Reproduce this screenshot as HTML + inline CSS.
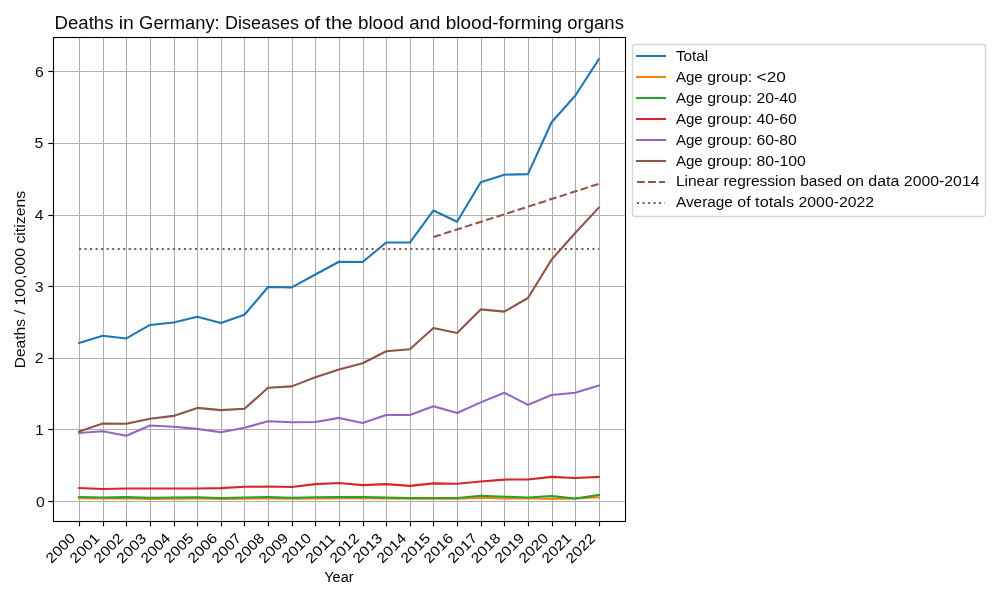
<!DOCTYPE html>
<html lang="en">
<head>
<meta charset="utf-8">
<title>Deaths in Germany: Diseases of the blood and blood-forming organs</title>
<style>
html,body{margin:0;padding:0;background:#ffffff;}
body{width:1000px;height:600px;overflow:hidden;font-family:"Liberation Sans", sans-serif;}
svg{display:block;will-change:transform;}
svg text{font-family:"Liberation Sans", sans-serif;fill:#000000;}
.grid line{stroke:#b0b0b0;stroke-width:1.11;}
.tick line{stroke:#000000;stroke-width:1.11;}
.series polyline,.series line{fill:none;stroke-width:2.083;stroke-linejoin:round;stroke-linecap:square;}
.leg line{stroke-width:2.083;}
</style>
</head>
<body>
<svg width="1000" height="600" viewBox="0 0 1000 600">
<rect x="0" y="0" width="1000" height="600" fill="#ffffff"/>
<text id="title" font-size="17.65" fill-opacity="0.97"><tspan x="54.61" y="29.00" textLength="58.82" lengthAdjust="spacingAndGlyphs">Deaths</tspan> <tspan x="118.70" y="29.00" textLength="15.13" lengthAdjust="spacingAndGlyphs">in</tspan> <tspan x="139.10" y="29.00" textLength="80.64" lengthAdjust="spacingAndGlyphs">Germany:</tspan> <tspan x="225.02" y="29.00" textLength="73.90" lengthAdjust="spacingAndGlyphs">Diseases</tspan> <tspan x="304.20" y="29.00" textLength="15.99" lengthAdjust="spacingAndGlyphs">of</tspan> <tspan x="325.46" y="29.00" textLength="27.23" lengthAdjust="spacingAndGlyphs">the</tspan> <tspan x="357.96" y="29.00" textLength="45.98" lengthAdjust="spacingAndGlyphs">blood</tspan> <tspan x="409.21" y="29.00" textLength="31.21" lengthAdjust="spacingAndGlyphs">and</tspan> <tspan x="445.70" y="29.00" textLength="116.35" lengthAdjust="spacingAndGlyphs">blood-forming</tspan> <tspan x="567.32" y="29.00" textLength="56.58" lengthAdjust="spacingAndGlyphs">organs</tspan></text>
<g class="grid">
<line x1="79.5" y1="37.33" x2="79.5" y2="520.90"/>
<line x1="103.5" y1="37.33" x2="103.5" y2="520.90"/>
<line x1="126.5" y1="37.33" x2="126.5" y2="520.90"/>
<line x1="150.5" y1="37.33" x2="150.5" y2="520.90"/>
<line x1="174.5" y1="37.33" x2="174.5" y2="520.90"/>
<line x1="197.5" y1="37.33" x2="197.5" y2="520.90"/>
<line x1="221.5" y1="37.33" x2="221.5" y2="520.90"/>
<line x1="244.5" y1="37.33" x2="244.5" y2="520.90"/>
<line x1="268.5" y1="37.33" x2="268.5" y2="520.90"/>
<line x1="292.5" y1="37.33" x2="292.5" y2="520.90"/>
<line x1="315.5" y1="37.33" x2="315.5" y2="520.90"/>
<line x1="339.5" y1="37.33" x2="339.5" y2="520.90"/>
<line x1="363.5" y1="37.33" x2="363.5" y2="520.90"/>
<line x1="386.5" y1="37.33" x2="386.5" y2="520.90"/>
<line x1="410.5" y1="37.33" x2="410.5" y2="520.90"/>
<line x1="433.5" y1="37.33" x2="433.5" y2="520.90"/>
<line x1="457.5" y1="37.33" x2="457.5" y2="520.90"/>
<line x1="481.5" y1="37.33" x2="481.5" y2="520.90"/>
<line x1="504.5" y1="37.33" x2="504.5" y2="520.90"/>
<line x1="528.5" y1="37.33" x2="528.5" y2="520.90"/>
<line x1="552.5" y1="37.33" x2="552.5" y2="520.90"/>
<line x1="575.5" y1="37.33" x2="575.5" y2="520.90"/>
<line x1="599.5" y1="37.33" x2="599.5" y2="520.90"/>
<line x1="53.15" y1="501.5" x2="624.81" y2="501.5"/>
<line x1="53.15" y1="429.5" x2="624.81" y2="429.5"/>
<line x1="53.15" y1="358.5" x2="624.81" y2="358.5"/>
<line x1="53.15" y1="286.5" x2="624.81" y2="286.5"/>
<line x1="53.15" y1="215.5" x2="624.81" y2="215.5"/>
<line x1="53.15" y1="143.5" x2="624.81" y2="143.5"/>
<line x1="53.15" y1="71.5" x2="624.81" y2="71.5"/>
</g>
<g class="series">
<polyline stroke="#1f77b4" points="79.14,342.95 102.76,335.75 126.38,338.45 150.00,324.95 173.62,322.55 197.25,316.75 220.87,322.95 244.49,314.70 268.11,286.95 291.74,287.40 315.36,274.50 338.98,261.75 362.60,262.05 386.22,242.55 409.84,242.55 433.47,210.45 457.09,221.70 480.71,182.20 504.33,174.70 527.95,174.10 551.58,122.20 575.20,95.80 598.82,59.31"/>
<polyline stroke="#ff7f0e" points="79.14,498.20 102.76,498.50 126.38,498.20 150.00,498.90 173.62,498.60 197.25,498.50 220.87,498.90 244.49,498.60 268.11,498.40 291.74,498.70 315.36,498.50 338.98,498.30 362.60,498.20 386.22,498.50 409.84,498.80 433.47,498.80 457.09,498.70 480.71,497.60 504.33,498.50 527.95,498.20 551.58,498.92 575.20,498.50 598.82,497.30"/>
<polyline stroke="#2ca02c" points="79.14,497.00 102.76,497.45 126.38,497.15 150.00,497.75 173.62,497.45 197.25,497.30 220.87,498.05 244.49,497.45 268.11,497.15 291.74,497.75 315.36,497.30 338.98,497.15 362.60,497.00 386.22,497.60 409.84,498.05 433.47,498.05 457.09,498.05 480.71,495.80 504.33,496.70 527.95,497.45 551.58,496.10 575.20,498.50 598.82,495.05"/>
<polyline stroke="#d62728" points="79.14,488.00 102.76,489.05 126.38,488.45 150.00,488.45 173.62,488.45 197.25,488.45 220.87,488.15 244.49,486.80 268.11,486.50 291.74,486.95 315.36,484.10 338.98,483.00 362.60,485.15 386.22,484.10 409.84,485.90 433.47,483.35 457.09,483.80 480.71,481.55 504.33,479.60 527.95,479.45 551.58,476.90 575.20,477.95 598.82,476.90"/>
<polyline stroke="#9467bd" points="79.14,433.00 102.76,431.20 126.38,435.70 150.00,425.50 173.62,426.70 197.25,428.90 220.87,432.30 244.49,427.80 268.11,421.20 291.74,422.25 315.36,421.95 338.98,417.90 362.60,422.95 386.22,415.00 409.84,415.00 433.47,406.30 457.09,413.05 480.71,402.40 504.33,392.75 527.95,404.90 551.58,395.00 575.20,392.75 598.82,385.55"/>
<polyline stroke="#8c564b" points="79.14,431.50 102.76,423.55 126.38,423.70 150.00,418.75 173.62,415.90 197.25,407.90 220.87,410.10 244.49,408.75 268.11,387.75 291.74,386.40 315.36,377.25 338.98,369.50 362.60,363.30 386.22,351.30 409.84,349.20 433.47,328.05 457.09,333.00 480.71,309.40 504.33,311.60 527.95,298.00 551.58,259.60 575.20,233.00 598.82,207.60"/>
<line stroke="#8c564b" stroke-linecap="butt" style="stroke-linecap:butt" stroke-dasharray="7.708 3.333" x1="433.47" y1="237.0" x2="598.82" y2="183.9"/>
<line stroke="#8c564b" style="stroke-linecap:butt" stroke-dasharray="2.083 3.4375" x1="79" y1="249" x2="599" y2="249"/>
</g>
<rect x="53.5" y="37.5" width="572.0" height="484.0" fill="none" stroke="#000000" stroke-width="1.11"/>
<g class="tick">
<line x1="79.5" y1="521.5" x2="79.5" y2="526.4"/>
<line x1="103.5" y1="521.5" x2="103.5" y2="526.4"/>
<line x1="126.5" y1="521.5" x2="126.5" y2="526.4"/>
<line x1="150.5" y1="521.5" x2="150.5" y2="526.4"/>
<line x1="174.5" y1="521.5" x2="174.5" y2="526.4"/>
<line x1="197.5" y1="521.5" x2="197.5" y2="526.4"/>
<line x1="221.5" y1="521.5" x2="221.5" y2="526.4"/>
<line x1="244.5" y1="521.5" x2="244.5" y2="526.4"/>
<line x1="268.5" y1="521.5" x2="268.5" y2="526.4"/>
<line x1="292.5" y1="521.5" x2="292.5" y2="526.4"/>
<line x1="315.5" y1="521.5" x2="315.5" y2="526.4"/>
<line x1="339.5" y1="521.5" x2="339.5" y2="526.4"/>
<line x1="363.5" y1="521.5" x2="363.5" y2="526.4"/>
<line x1="386.5" y1="521.5" x2="386.5" y2="526.4"/>
<line x1="410.5" y1="521.5" x2="410.5" y2="526.4"/>
<line x1="433.5" y1="521.5" x2="433.5" y2="526.4"/>
<line x1="457.5" y1="521.5" x2="457.5" y2="526.4"/>
<line x1="481.5" y1="521.5" x2="481.5" y2="526.4"/>
<line x1="504.5" y1="521.5" x2="504.5" y2="526.4"/>
<line x1="528.5" y1="521.5" x2="528.5" y2="526.4"/>
<line x1="552.5" y1="521.5" x2="552.5" y2="526.4"/>
<line x1="575.5" y1="521.5" x2="575.5" y2="526.4"/>
<line x1="599.5" y1="521.5" x2="599.5" y2="526.4"/>
<line x1="48.3" y1="501.5" x2="53.5" y2="501.5"/>
<line x1="48.3" y1="429.5" x2="53.5" y2="429.5"/>
<line x1="48.3" y1="358.5" x2="53.5" y2="358.5"/>
<line x1="48.3" y1="286.5" x2="53.5" y2="286.5"/>
<line x1="48.3" y1="215.5" x2="53.5" y2="215.5"/>
<line x1="48.3" y1="143.5" x2="53.5" y2="143.5"/>
<line x1="48.3" y1="71.5" x2="53.5" y2="71.5"/>
</g>
<g id="xt" font-size="14.20" fill-opacity="1.00">
<text transform="translate(76.19,539.20) rotate(-45)" text-anchor="end" textLength="34.95" lengthAdjust="spacingAndGlyphs">2000</text>
<text transform="translate(100.31,539.20) rotate(-45)" text-anchor="end" textLength="34.95" lengthAdjust="spacingAndGlyphs">2001</text>
<text transform="translate(124.18,539.20) rotate(-45)" text-anchor="end" textLength="34.95" lengthAdjust="spacingAndGlyphs">2002</text>
<text transform="translate(147.05,539.45) rotate(-45)" text-anchor="end" textLength="34.95" lengthAdjust="spacingAndGlyphs">2003</text>
<text transform="translate(171.18,539.20) rotate(-45)" text-anchor="end" textLength="34.95" lengthAdjust="spacingAndGlyphs">2004</text>
<text transform="translate(194.30,539.20) rotate(-45)" text-anchor="end" textLength="34.95" lengthAdjust="spacingAndGlyphs">2005</text>
<text transform="translate(218.17,539.20) rotate(-45)" text-anchor="end" textLength="34.95" lengthAdjust="spacingAndGlyphs">2006</text>
<text transform="translate(242.29,539.20) rotate(-45)" text-anchor="end" textLength="34.95" lengthAdjust="spacingAndGlyphs">2007</text>
<text transform="translate(265.16,539.20) rotate(-45)" text-anchor="end" textLength="34.95" lengthAdjust="spacingAndGlyphs">2008</text>
<text transform="translate(289.29,539.20) rotate(-45)" text-anchor="end" textLength="34.95" lengthAdjust="spacingAndGlyphs">2009</text>
<text transform="translate(312.16,539.20) rotate(-45)" text-anchor="end" textLength="34.95" lengthAdjust="spacingAndGlyphs">2010</text>
<text transform="translate(336.03,539.45) rotate(-45)" text-anchor="end" textLength="34.95" lengthAdjust="spacingAndGlyphs">2011</text>
<text transform="translate(360.15,539.20) rotate(-45)" text-anchor="end" textLength="34.95" lengthAdjust="spacingAndGlyphs">2012</text>
<text transform="translate(383.27,539.20) rotate(-45)" text-anchor="end" textLength="34.95" lengthAdjust="spacingAndGlyphs">2013</text>
<text transform="translate(407.14,539.20) rotate(-45)" text-anchor="end" textLength="34.95" lengthAdjust="spacingAndGlyphs">2014</text>
<text transform="translate(431.27,539.20) rotate(-45)" text-anchor="end" textLength="34.95" lengthAdjust="spacingAndGlyphs">2015</text>
<text transform="translate(454.14,539.20) rotate(-45)" text-anchor="end" textLength="34.95" lengthAdjust="spacingAndGlyphs">2016</text>
<text transform="translate(478.26,539.20) rotate(-45)" text-anchor="end" textLength="34.95" lengthAdjust="spacingAndGlyphs">2017</text>
<text transform="translate(501.38,539.20) rotate(-45)" text-anchor="end" textLength="34.95" lengthAdjust="spacingAndGlyphs">2018</text>
<text transform="translate(525.25,539.20) rotate(-45)" text-anchor="end" textLength="34.95" lengthAdjust="spacingAndGlyphs">2019</text>
<text transform="translate(549.13,539.20) rotate(-45)" text-anchor="end" textLength="34.95" lengthAdjust="spacingAndGlyphs">2020</text>
<text transform="translate(572.25,539.20) rotate(-45)" text-anchor="end" textLength="34.95" lengthAdjust="spacingAndGlyphs">2021</text>
<text transform="translate(596.12,539.45) rotate(-45)" text-anchor="end" textLength="34.95" lengthAdjust="spacingAndGlyphs">2022</text>
</g>
<g id="yt" font-size="15.05" fill-opacity="0.94" text-anchor="end">
<text x="44.80" y="506.51" textLength="8.80" lengthAdjust="spacingAndGlyphs">0</text>
<text x="43.80" y="434.91" textLength="8.80" lengthAdjust="spacingAndGlyphs">1</text>
<text x="43.55" y="363.30" textLength="8.80" lengthAdjust="spacingAndGlyphs">2</text>
<text x="43.55" y="291.70" textLength="8.80" lengthAdjust="spacingAndGlyphs">3</text>
<text x="43.55" y="220.10" textLength="8.80" lengthAdjust="spacingAndGlyphs">4</text>
<text x="43.30" y="148.49" textLength="8.80" lengthAdjust="spacingAndGlyphs">5</text>
<text x="43.80" y="76.89" textLength="8.80" lengthAdjust="spacingAndGlyphs">6</text>
</g>
<text id="xlabel" font-size="14.85" fill-opacity="1.00"><tspan x="324.21" y="582.00" textLength="29.34" lengthAdjust="spacingAndGlyphs">Year</tspan></text>
<text id="ylabel" transform="translate(24.95,279.80) rotate(-90)" font-size="13.95" fill-opacity="0.94"><tspan x="-88.49" y="0.00" textLength="49.28" lengthAdjust="spacingAndGlyphs">Deaths</tspan> <tspan x="-34.79" y="0.00" textLength="4.68" lengthAdjust="spacingAndGlyphs">/</tspan> <tspan x="-25.68" y="0.00" textLength="57.49" lengthAdjust="spacingAndGlyphs">100,000</tspan> <tspan x="36.23" y="0.00" textLength="52.73" lengthAdjust="spacingAndGlyphs">citizens</tspan></text>
<g class="leg">
<rect x="632.5" y="44.5" width="353" height="172" rx="2.78" ry="2.78" fill="#ffffff" fill-opacity="0.8" stroke="#cccccc" stroke-opacity="0.8" stroke-width="1.389"/>
<line x1="637" y1="56" x2="665" y2="56" stroke="#1f77b4" stroke-linecap="square"/>
<text id="L0" font-size="15.40" fill-opacity="0.97"><tspan x="675.90" y="61.00" textLength="32.39" lengthAdjust="spacingAndGlyphs">Total</tspan></text>
<line x1="637" y1="77" x2="665" y2="77" stroke="#ff7f0e" stroke-linecap="square"/>
<text id="L1" font-size="15.40" fill-opacity="0.97"><tspan x="675.90" y="82.00" textLength="26.84" lengthAdjust="spacingAndGlyphs">Age</tspan> <tspan x="707.15" y="82.00" textLength="45.03" lengthAdjust="spacingAndGlyphs">group:</tspan> <tspan x="756.58" y="82.00" textLength="29.28" lengthAdjust="spacingAndGlyphs">&lt;20</tspan></text>
<line x1="637" y1="98" x2="665" y2="98" stroke="#2ca02c" stroke-linecap="square"/>
<text id="L2" font-size="15.40" fill-opacity="0.97"><tspan x="675.90" y="103.00" textLength="26.84" lengthAdjust="spacingAndGlyphs">Age</tspan> <tspan x="707.15" y="103.00" textLength="45.03" lengthAdjust="spacingAndGlyphs">group:</tspan> <tspan x="756.58" y="103.00" textLength="40.32" lengthAdjust="spacingAndGlyphs">20-40</tspan></text>
<line x1="637" y1="119" x2="665" y2="119" stroke="#d62728" stroke-linecap="square"/>
<text id="L3" font-size="15.40" fill-opacity="0.97"><tspan x="675.90" y="124.00" textLength="26.84" lengthAdjust="spacingAndGlyphs">Age</tspan> <tspan x="707.15" y="124.00" textLength="45.03" lengthAdjust="spacingAndGlyphs">group:</tspan> <tspan x="756.58" y="124.00" textLength="40.32" lengthAdjust="spacingAndGlyphs">40-60</tspan></text>
<line x1="637" y1="140" x2="665" y2="140" stroke="#9467bd" stroke-linecap="square"/>
<text id="L4" font-size="15.40" fill-opacity="0.97"><tspan x="675.90" y="145.00" textLength="26.84" lengthAdjust="spacingAndGlyphs">Age</tspan> <tspan x="707.15" y="145.00" textLength="45.03" lengthAdjust="spacingAndGlyphs">group:</tspan> <tspan x="756.58" y="145.00" textLength="40.32" lengthAdjust="spacingAndGlyphs">60-80</tspan></text>
<line x1="637" y1="161" x2="665" y2="161" stroke="#8c564b" stroke-linecap="square"/>
<text id="L5" font-size="15.40" fill-opacity="0.97"><tspan x="675.90" y="166.00" textLength="26.84" lengthAdjust="spacingAndGlyphs">Age</tspan> <tspan x="707.15" y="166.00" textLength="45.03" lengthAdjust="spacingAndGlyphs">group:</tspan> <tspan x="756.58" y="166.00" textLength="49.15" lengthAdjust="spacingAndGlyphs">80-100</tspan></text>
<line x1="637" y1="182" x2="665" y2="182" stroke="#8c564b" stroke-linecap="butt" stroke-dasharray="7.708 3.333"/>
<text id="L6" font-size="15.40" fill-opacity="0.97"><tspan x="675.90" y="186.00" textLength="43.12" lengthAdjust="spacingAndGlyphs">Linear</tspan> <tspan x="723.43" y="186.00" textLength="72.38" lengthAdjust="spacingAndGlyphs">regression</tspan> <tspan x="800.23" y="186.00" textLength="41.88" lengthAdjust="spacingAndGlyphs">based</tspan> <tspan x="846.52" y="186.00" textLength="17.28" lengthAdjust="spacingAndGlyphs">on</tspan> <tspan x="868.21" y="186.00" textLength="31.25" lengthAdjust="spacingAndGlyphs">data</tspan> <tspan x="903.88" y="186.00" textLength="75.63" lengthAdjust="spacingAndGlyphs">2000-2014</tspan></text>
<line x1="637" y1="203" x2="665" y2="203" stroke="#8c564b" stroke-linecap="butt" stroke-dasharray="2.083 3.4375"/>
<text id="L7" font-size="15.40" fill-opacity="0.97"><tspan x="675.90" y="207.00" textLength="57.04" lengthAdjust="spacingAndGlyphs">Average</tspan> <tspan x="737.35" y="207.00" textLength="13.37" lengthAdjust="spacingAndGlyphs">of</tspan> <tspan x="755.13" y="207.00" textLength="38.96" lengthAdjust="spacingAndGlyphs">totals</tspan> <tspan x="798.50" y="207.00" textLength="75.63" lengthAdjust="spacingAndGlyphs">2000-2022</tspan></text>
</g>
</svg>
</body>
</html>
